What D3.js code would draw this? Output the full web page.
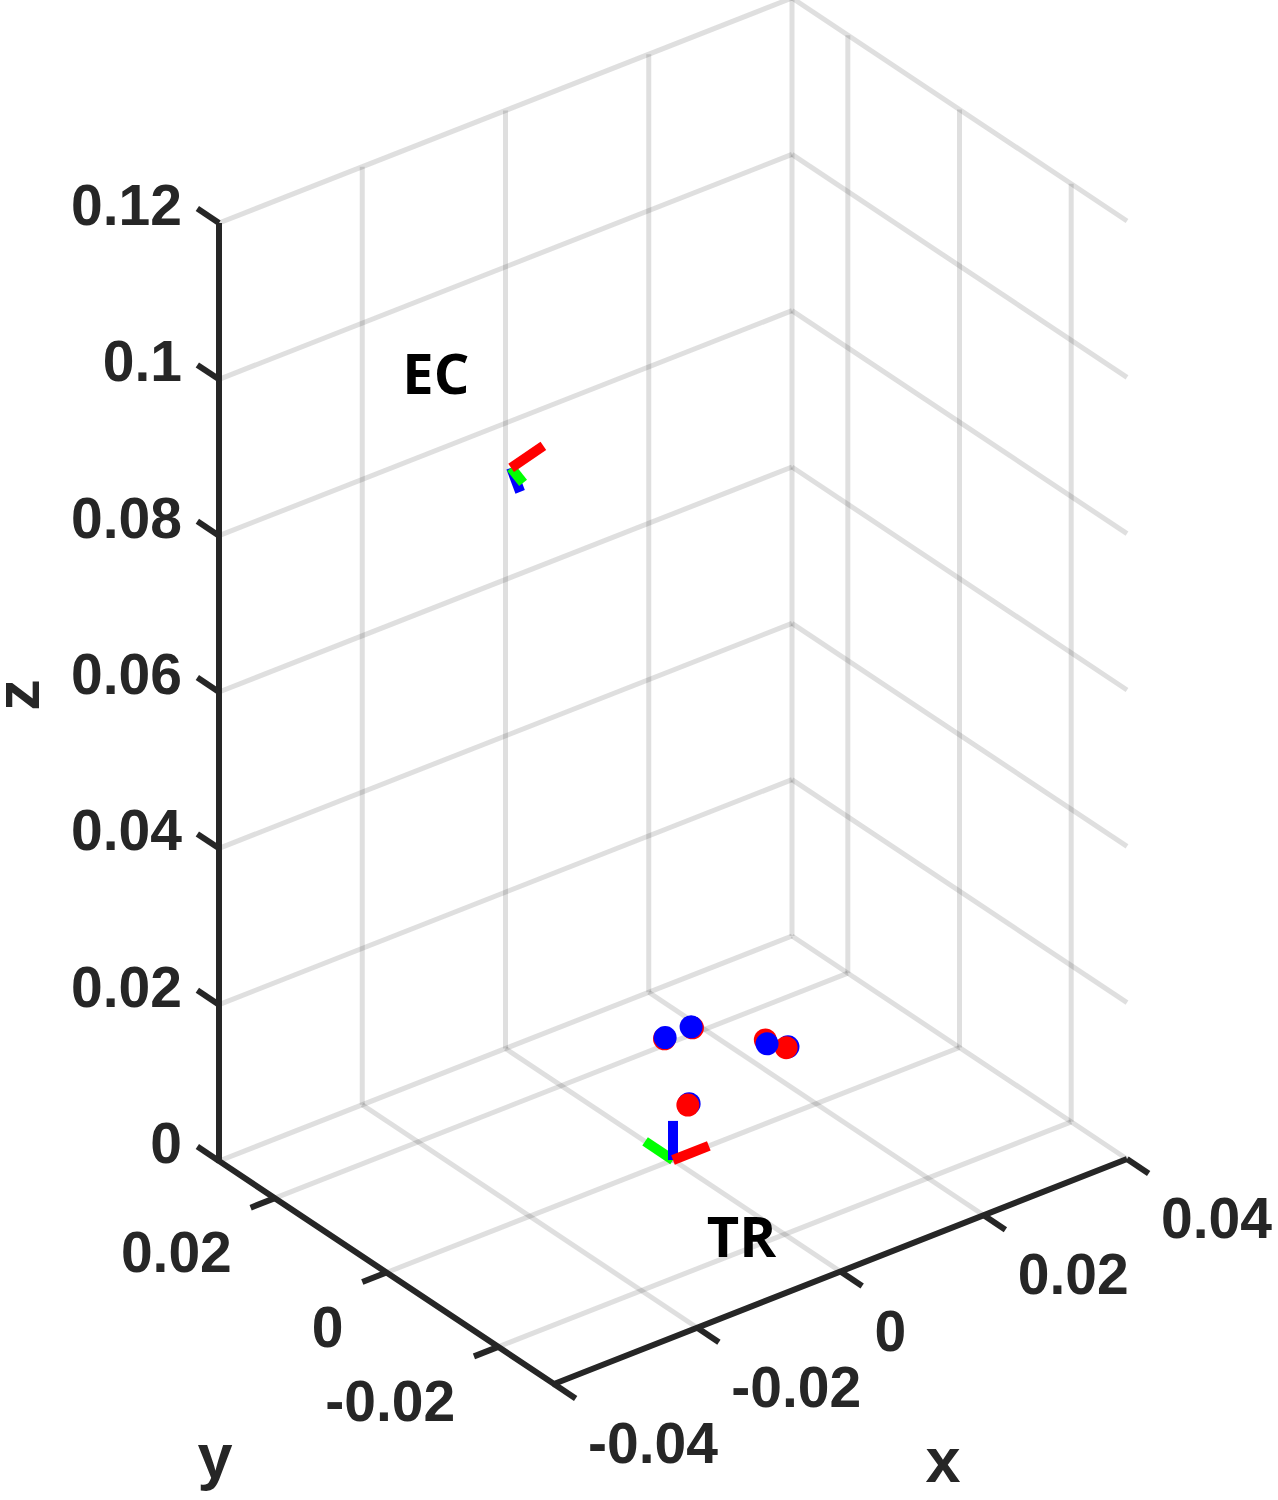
<!DOCTYPE html>
<html>
<head>
<meta charset="utf-8">
<script src="https://cdn.jsdelivr.net/npm/d3@7"></script>
<style>
body { margin: 0; background: #fff; }
</style>
</head>
<body>
<script>
// axis limits and ticks
let xLim = [-0.04, 0.04]
let yLim = [-0.03, 0.03]
let zLim = [0, 0.12]
let xTicks = [-0.04, -0.02, 0, 0.02, 0.04]
let yTicks = [-0.02, 0, 0.02]
let zTicks = [0, 0.02, 0.04, 0.06, 0.08, 0.1, 0.12]
let xTickLabels = ["-0.04", "-0.02", "0", "0.02", "0.04"]
let yTickLabels = ["-0.02", "0", "0.02"]
let zTickLabels = ["0", "0.02", "0.04", "0.06", "0.08", "0.1", "0.12"]

// coordinate frames: origin + x (red), y (green), z (blue) axis vectors
let frameNames = ["TR", "EC"]
let frameOrigins = [[0, 0, 0], [-0.012, 0.0136, 0.0864]]
let frameAxes = [
    [[0.005, 0, 0], [0, 0.005, 0], [0, 0, 0.005]],
    [[0.0045, 0, 0.0012], [0.0005, -0.0015, -0.0014], [0.00087, -0.0005, -0.00315]]
]
let frameLabelPos = [[-0.0072, -0.0153, 0], [-0.0222, 0.02, 0.099]]

// point markers
let redPoints = [
    [0.0070, 0.0105, 0.008],
    [0.0109, 0.0105, 0.008],
    [0.0157, 0.0036, 0.008],
    [0.0165, 0.0009, 0.008],
    [0.0034, 0.0017, 0.005]
]
let bluePoints = [
    [0.0067, 0.0100, 0.0085],
    [0.0104, 0.0101, 0.0085],
    [0.0143, 0.0015, 0.009],
    [0.0173, 0.0016, 0.0075],
    [0.0042, 0.0025, 0.0045]
]

let axisColors = ["#ff0000", "#00ff00", "#0000ff"]
let frameDrawOrder = [[1, 2, 0], [2, 1, 0]]

let W = 1278, H = 1500
let svg = d3.select("body")
    .append("svg")
    .attr("width", W)
    .attr("height", H)

// 3d -> screen through linear scales onto the box edges
let fx = d3.scaleLinear().domain(xLim).range([0, 1])
let fy = d3.scaleLinear().domain([yLim[1], yLim[0]]).range([0, 1])
let fz = d3.scaleLinear().domain(zLim).range([0, 1])
let corner = [219, 1161]
let ex = [573, -225], ey = [335, 223], ez = [0, -938]

function proj(p) {
    let a = fx(p[0]), b = fy(p[1]), c = fz(p[2])
    return [corner[0] + a*ex[0] + b*ey[0] + c*ez[0],
            corner[1] + a*ex[1] + b*ey[1] + c*ez[1]]
}

// view direction (null vector of projection) for depth sorting
let r1 = [ex[0]/(xLim[1]-xLim[0]), -ey[0]/(yLim[1]-yLim[0]), ez[0]/(zLim[1]-zLim[0])]
let r2 = [ex[1]/(xLim[1]-xLim[0]), -ey[1]/(yLim[1]-yLim[0]), ez[1]/(zLim[1]-zLim[0])]
let view = [r1[1]*r2[2]-r1[2]*r2[1], r1[2]*r2[0]-r1[0]*r2[2], r1[0]*r2[1]-r1[1]*r2[0]]
function depth(p) { return p[0]*view[0] + p[1]*view[1] + p[2]*view[2] }

let line = d3.line()

// grid
let grid = []
xTicks.forEach(x => grid.push([[x, yLim[1], zLim[0]], [x, yLim[1], zLim[1]]]))
yTicks.forEach(y => grid.push([[xLim[1], y, zLim[0]], [xLim[1], y, zLim[1]]]))
zTicks.forEach(z => {
    grid.push([[xLim[0], yLim[1], z], [xLim[1], yLim[1], z]])
    grid.push([[xLim[1], yLim[1], z], [xLim[1], yLim[0], z]])
})
xTicks.slice(1, -1).forEach(x => grid.push([[x, yLim[0], zLim[0]], [x, yLim[1], zLim[0]]]))
yTicks.forEach(y => grid.push([[xLim[0], y, zLim[0]], [xLim[1], y, zLim[0]]]))

svg.append("g").selectAll("path")
    .data(grid)
    .enter()
    .append("path")
    .attr("d", d => line(d.map(proj)))
    .attr("fill", "none")
    .attr("stroke", "#262626")
    .attr("stroke-opacity", 0.15)
    .attr("stroke-width", 5)

// axis lines
let axisPath = [[xLim[0], yLim[1], zLim[1]], [xLim[0], yLim[1], zLim[0]],
                [xLim[0], yLim[0], zLim[0]], [xLim[1], yLim[0], zLim[0]]]
svg.append("path")
    .attr("d", line(axisPath.map(proj)))
    .attr("fill", "none")
    .attr("stroke", "#262626")
    .attr("stroke-width", 6)
    .attr("stroke-linejoin", "miter")

let tickLen = 26
function tickDir(d3vec) {
    let a = proj([0, 0, 0]), b = proj(d3vec)
    let dx = b[0]-a[0], dy = b[1]-a[1], n = Math.hypot(dx, dy)
    return [dx/n*tickLen, dy/n*tickLen]
}
let zDir = tickDir([0, 0.01, 0])
let yDir = tickDir([-0.01, 0, 0])
let xDir = tickDir([0, -0.01, 0])

let ticks = []
zTicks.forEach(z => ticks.push({p: proj([xLim[0], yLim[1], z]), d: zDir}))
yTicks.forEach(y => ticks.push({p: proj([xLim[0], y, zLim[0]]), d: yDir}))
xTicks.forEach(x => ticks.push({p: proj([x, yLim[0], zLim[0]]), d: xDir}))

svg.append("g").selectAll("line")
    .data(ticks)
    .enter()
    .append("line")
    .attr("x1", d => d.p[0]).attr("y1", d => d.p[1])
    .attr("x2", d => d.p[0] + d.d[0]).attr("y2", d => d.p[1] + d.d[1])
    .attr("stroke", "#262626")
    .attr("stroke-width", 6)

// tick labels
let tickFont = 57
function addLabels(vals, labels, toPt, anchor, dx, dy) {
    svg.append("g").selectAll("text")
        .data(vals)
        .enter()
        .append("text")
        .attr("x", d => toPt(d)[0] + dx)
        .attr("y", d => toPt(d)[1] + dy)
        .attr("text-anchor", anchor)
        .attr("font-family", "'Liberation Sans', Arial, Helvetica, sans-serif")
        .attr("font-weight", "bold")
        .attr("font-size", tickFont)
        .attr("fill", "#262626")
        .text((d, i) => labels[i])
}
addLabels(zTicks, zTickLabels, z => proj([xLim[0], yLim[1], z]), "end", -37, 2)
addLabels(yTicks, yTickLabels, y => proj([xLim[0], y, zLim[0]]), "end", -43, 74)
addLabels(xTicks, xTickLabels, x => proj([x, yLim[0], zLim[0]]), "start", 34, 79)

// axis titles
let titleFont = 63
let titles = svg.append("g")
    .attr("font-family", "'Liberation Sans', Arial, Helvetica, sans-serif")
    .attr("font-weight", "bold")
    .attr("font-size", titleFont)
    .attr("fill", "#262626")
    .attr("text-anchor", "middle")
titles.append("text").attr("x", 943).attr("y", 1482).text("x")
titles.append("text").attr("x", 215).attr("y", 1478).text("y")
titles.append("text").attr("transform", "translate(39,695) rotate(-90)").text("z")

// coordinate frames
frameOrigins.forEach((o, k) => {
    let g = svg.append("g")
    frameDrawOrder[k].forEach(i => {
        let v = frameAxes[k][i]
        let tip = [o[0]+v[0], o[1]+v[1], o[2]+v[2]]
        g.append("path")
            .attr("d", line([proj(o), proj(tip)]))
            .attr("stroke", axisColors[i])
            .attr("stroke-width", 10)
            .attr("fill", "none")
    })
})

// frame labels
svg.append("g").selectAll("text")
    .data(frameNames)
    .enter()
    .append("text")
    .attr("x", (d, i) => proj(frameLabelPos[i])[0])
    .attr("y", (d, i) => proj(frameLabelPos[i])[1] + 20)
    .attr("font-family", "'Open Sans', 'Noto Sans', sans-serif")
    .attr("font-weight", "bold")
    .attr("font-size", 56)
    .attr("fill", "#000")
    .text(d => d)

// markers sorted far to near
let markers = redPoints.map(p => ({p: p, c: "#ff0000"}))
    .concat(bluePoints.map(p => ({p: p, c: "#0000ff"})))
markers.sort((a, b) => depth(b.p) - depth(a.p))

svg.append("g").selectAll("circle")
    .data(markers)
    .enter()
    .append("circle")
    .attr("cx", d => proj(d.p)[0])
    .attr("cy", d => proj(d.p)[1])
    .attr("r", 11.5)
    .attr("fill", d => d.c)
</script>
</body>
</html>
